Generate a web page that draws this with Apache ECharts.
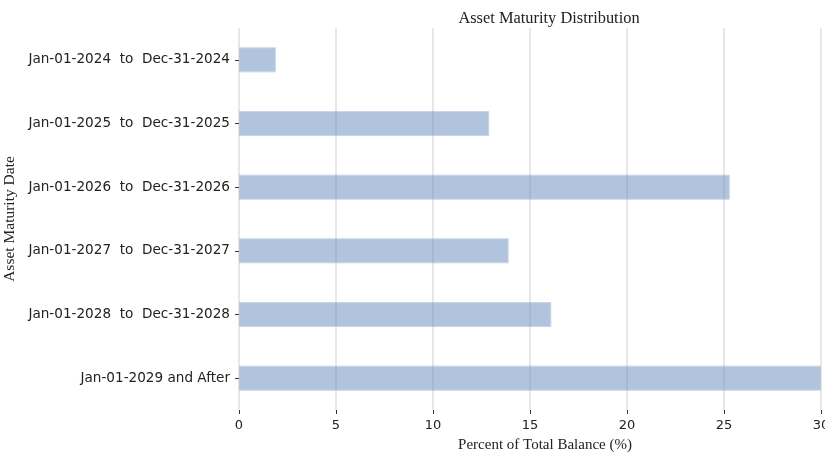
<!DOCTYPE html>
<html>
<head>
<meta charset="utf-8">
<script src="https://cdn.jsdelivr.net/npm/echarts@6/dist/echarts.min.js"></script>
<style>
  html, body { margin: 0; padding: 0; background: #fff; }
  #chart { width: 825px; height: 454px; }
</style>
</head>
<body>
<div id="chart"></div>
<script>
// maturity buckets, top to bottom
var categories = [
    'Jan-01-2024  to  Dec-31-2024',
    'Jan-01-2025  to  Dec-31-2025',
    'Jan-01-2026  to  Dec-31-2026',
    'Jan-01-2027  to  Dec-31-2027',
    'Jan-01-2028  to  Dec-31-2028',
    'Jan-01-2029 and After'
];
// percent of total balance
var percents = [1.9, 12.9, 25.3, 13.9, 16.1, 30.0];
var xTicks = [0, 5, 10, 15, 20, 25, 30];

var chart = echarts.init(document.getElementById('chart'));

var option = {
    backgroundColor: '#fff',
    animation: false,
    title: {
        text: 'Asset Maturity Distribution',
        left: 544,
        top: 6,
        textAlign: 'center',
        textStyle: { fontFamily: 'Liberation Serif', fontSize: 16.4, fontWeight: 'normal', color: '#222' }
    },
    grid: { left: 239, right: 4, top: 28, bottom: 44, outerBoundsMode: 'none', containLabel: false },
    xAxis: {
        type: 'value',
        min: xTicks[0],
        max: xTicks[xTicks.length - 1],
        interval: 5,
        z: 3,
        name: 'Percent of Total Balance (%)',
        nameLocation: 'middle',
        nameGap: 28,
        nameTextStyle: { fontFamily: 'Liberation Serif', fontSize: 15, color: '#222', padding: [0, 0, 0, 30] },
        axisLine: { show: false },
        axisTick: { show: true, length: 4, lineStyle: { color: '#333' } },
        axisLabel: { fontFamily: 'DejaVu Sans', fontSize: 13, color: '#222', margin: 9 },
        splitLine: { show: true, lineStyle: { color: 'rgba(150,150,150,0.3)', width: 1.5 } }
    },
    yAxis: {
        type: 'category',
        data: categories,
        inverse: true,
        name: 'Asset Maturity Date',
        nameLocation: 'middle',
        nameRotate: 90,
        nameGap: 214,
        nameTextStyle: { fontFamily: 'Liberation Serif', fontSize: 15.5, color: '#222' },
        axisLine: { show: false },
        axisTick: { show: true, length: 4, alignWithLabel: true, lineStyle: { color: '#333' } },
        axisLabel: { fontFamily: 'DejaVu Sans', fontSize: 13.6, color: '#222', margin: 9 },
        splitLine: { show: false }
    },
    series: [{
        type: 'bar',
        data: percents,
        barWidth: 25,
        itemStyle: { color: '#b0c4de', borderColor: '#c8d6e8', borderWidth: 1 }
    }]
};

chart.setOption(option);
</script>
</body>
</html>
